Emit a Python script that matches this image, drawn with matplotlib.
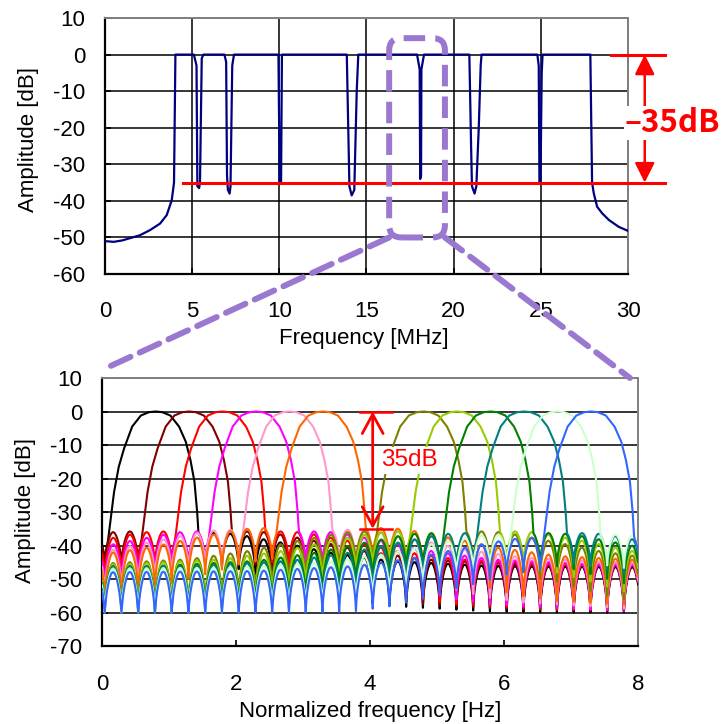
import numpy as np
import matplotlib
matplotlib.use('Agg')
import matplotlib.pyplot as plt
from matplotlib.patches import FancyBboxPatch, ConnectionPatch

plt.rcParams['font.family'] = ['Liberation Sans', 'DejaVu Sans']
plt.rcParams['axes.unicode_minus'] = False

# ---------------- top chart data (measured spectrum) ----------------
top_freq = [0.0, 0.5, 1.0, 1.43, 2.0, 2.58, 3.16, 3.54, 3.83, 3.96, 4.04,
            5.1, 5.25, 5.3, 5.4, 5.45, 5.55, 5.65,
            6.85, 6.95, 7.0, 7.05, 7.15, 7.2, 7.3, 7.4,
            9.95, 10.02, 10.1, 10.15,
            13.87, 14.02, 14.15, 14.3, 14.44, 14.53,
            17.9, 18.05, 18.08, 18.13, 18.15, 18.3,
            20.9, 21.0, 21.05, 21.2, 21.3, 21.44, 21.55, 21.6,
            24.8, 24.88, 24.92, 24.98, 25.05, 25.1,
            27.84, 27.94, 28.04, 28.23, 28.52, 28.9, 29.47, 30.0]
top_amp = [-51.0, -51.2, -50.8, -50.2, -49.4, -48.0, -46.2, -43.9, -39.8, -35.0, 0.0,
           0.0, -3.0, -36.0, -36.5, -35.0, -1.0, 0.0,
           0.0, -2.0, -33.0, -37.0, -38.0, -36.0, -3.0, 0.0,
           0.0, -35.0, -35.0, 0.0,
           0.0, -36.0, -38.5, -37.0, -10.0, 0.0,
           0.0, -4.0, -34.0, -33.0, -4.0, 0.0,
           0.0, -25.0, -36.0, -38.0, -36.0, -20.0, -3.0, 0.0,
           0.0, -3.0, -35.0, -35.0, -5.0, 0.0,
           0.0, -35.0, -38.0, -41.6, -43.4, -45.2, -47.1, -48.2]
top_xticks = [0, 5, 10, 15, 20, 25, 30]
top_yticks = [-60, -50, -40, -30, -20, -10, 0, 10]
zoom_box_freq = [16.3, 19.5]
zoom_box_amp = [-50.0, 4.5]
depth_level = [0.0, -35.0]

# ---------------- bottom chart data (sub-band spectra) ----------------
norm_centers = [0.8, 1.3, 1.8, 2.3, 2.8, 3.3, 4.8, 5.3, 5.8, 6.3, 6.8, 7.3]
curve_colors = ['#000000', '#800000', '#FF0000', '#FF00FF', '#FF99CC', '#FF6600',
                '#808000', '#99CC00', '#008000', '#008080', '#CCFFCC', '#3366FF']
far_level = [-46.5, -46.0, -46.0, -46.0, -45.5, -45.0,
             -46.0, -46.0, -46.5, -46.5, -47.0, -48.0]
# main lobe profile (offset from centre, dB)
lobe_off = [-0.80, -0.72, -0.67, -0.62, -0.55, -0.47, -0.35, -0.22, -0.10, 0.0,
            0.10, 0.22, 0.35, 0.45, 0.52, 0.58, 0.62, 0.65, 0.72]
lobe_db = [-60, -40, -32, -24, -16.5, -11, -4.5, -1.2, -0.2, 0,
           -0.2, -1.2, -4.5, -9, -14.5, -21, -30, -40, -60]
# side-lobe envelope above far level vs distance from centre
env_dist = [0.6, 1.2, 1.6, 2.0, 2.6, 3.5, 5.0, 8.0]
env_rel = [10.5, 10.0, 8.5, 7.0, 4.5, 2.0, 0.5, 0.0]
# side-lobe null depth vs distance
depth_dist = [0.6, 1.5, 3.0, 8.0]
depth_db = [9.0, 11.0, 13.5, 14.0]
# one side-lobe period (fraction of period, dB for a 14 dB deep null)
scal_frac = [0, 0.04, 0.1, 0.2, 0.3, 0.4, 0.5, 0.6, 0.7, 0.8, 0.9, 0.96, 1.0]
scal_rel = [-14, -10, -7, -4, -1.8, -0.5, 0, -0.5, -1.8, -4, -7, -10, -14]
null_phase = 0.04
scallop_period = 0.25
bot_xticks = [0, 2, 4, 6, 8]
bot_yticks = [-70, -60, -50, -40, -30, -20, -10, 0, 10]
bar_x = [3.85, 4.33]
arrow_x = 4.04

purple = '#9B78CF'

fig = plt.figure(figsize=(7.24, 7.24), dpi=100)
ax1 = fig.add_axes([0.145, 0.6215, 0.7224, 0.3536])
ax2 = fig.add_axes([0.1409, 0.1077, 0.7403, 0.3702])

def style(ax, xpad, ypad):
    ax.set_axisbelow(True)
    for s in ['left', 'bottom']:
        ax.spines[s].set_color('black')
        ax.spines[s].set_linewidth(1.6)
    for s in ['top', 'right']:
        ax.spines[s].set_color('#808080')
        ax.spines[s].set_linewidth(1.4)
    ax.tick_params(axis='both', direction='in', length=4, width=1.2, labelsize=16)
    ax.tick_params(axis='x', pad=xpad)
    ax.tick_params(axis='y', pad=ypad)

# ---------------- top chart ----------------
ax1.plot(top_freq, top_amp, color='#000080', lw=1.6, zorder=3)
ax1.set_xlim(0, 30)
ax1.set_ylim(-60, 10)
ax1.set_xticks(top_xticks)
ax1.set_yticks(top_yticks)
ax1.grid(True, color='black', lw=1.1)
style(ax1, 19.5, 14)
ax1.set_xlabel('Frequency [MHz]', fontsize=16, va='center')
ax1.xaxis.set_label_coords(0.494, -0.25)
ax1.set_ylabel('Amplitude [dB]', fontsize=16, va='center')
ax1.yaxis.set_label_coords(-0.147, 0.525)

# -35 dB markers
ax1.plot([4.5, 32.1], [depth_level[1]] * 2, color='red', lw=2.2, zorder=4, clip_on=False)
ax1.plot([29.0, 32.1], [depth_level[0]] * 2, color='red', lw=2.2, zorder=4, clip_on=False)
ax1.annotate('', xy=(30.96, depth_level[1]), xytext=(30.96, depth_level[0]),
             arrowprops=dict(arrowstyle='<|-|>,head_length=0.6,head_width=0.3',
                             color='red', lw=1.8, mutation_scale=20,
                             shrinkA=0, shrinkB=0),
             annotation_clip=False, zorder=4)
ax1.text(32.55, -18.6, '\u201335dB', color='red', fontsize=22.5, fontweight='bold',
         family=['Noto Sans CJK JP', 'DejaVu Sans'],
         ha='center', va='center', clip_on=False, zorder=6,
         bbox=dict(facecolor='white', edgecolor='none', boxstyle='square,pad=0.03'))

# ---------------- bottom chart ----------------
x = np.arange(0, 8.0001, 0.01)
phase = np.mod((x - null_phase) / scallop_period, 1.0)
rel = np.interp(phase, scal_frac, scal_rel)
for c, col, far in zip(norm_centers, curve_colors, far_level):
    d = np.abs(x - c)
    peak = far + np.interp(d, env_dist, env_rel)
    depth = np.interp(d, depth_dist, depth_db)
    side = peak + rel * depth / 14.0
    lobe = np.interp(x - c, lobe_off, lobe_db)
    y = np.maximum(lobe, side)
    ax2.plot(x, y, color=col, lw=1.5, zorder=3)

ax2.set_xlim(0, 8)
ax2.set_ylim(-70, 10)
ax2.set_xticks(bot_xticks)
ax2.set_yticks(bot_yticks)
ax2.yaxis.grid(True, color='black', lw=1.1)
style(ax2, 20, 14)
ax2.set_xlabel('Normalized frequency [Hz]', fontsize=16, va='center')
ax2.xaxis.set_label_coords(0.5, -0.246)
ax2.set_ylabel('Amplitude [dB]', fontsize=16, va='center')
ax2.yaxis.set_label_coords(-0.143, 0.507)

ax2.plot(bar_x, [depth_level[0]] * 2, color='red', lw=1.8, zorder=5)
ax2.plot(bar_x, [depth_level[1]] * 2, color='red', lw=1.8, zorder=5)
ax2.annotate('', xy=(arrow_x, depth_level[1]), xytext=(arrow_x, depth_level[0]),
             arrowprops=dict(arrowstyle='<->,head_length=0.55,head_width=0.3',
                             color='red', lw=2.0, mutation_scale=25,
                             shrinkA=0, shrinkB=0), zorder=5)
ax2.text(4.16, -14.6, '35dB', color='red', fontsize=17.5, ha='left', va='center',
         zorder=6, bbox=dict(facecolor='white', edgecolor='none', boxstyle='square,pad=0.1'))

# ---------------- zoom indicator ----------------
fig.canvas.draw()
to_fig = ax1.transData + fig.transFigure.inverted()
(fx0, fy0) = to_fig.transform((zoom_box_freq[0], zoom_box_amp[0]))
(fx1, fy1) = to_fig.transform((zoom_box_freq[1], zoom_box_amp[1]))
box = FancyBboxPatch((fx0, fy0), fx1 - fx0, fy1 - fy0,
                     boxstyle='round,pad=0,rounding_size=0.017',
                     transform=fig.transFigure, fill=False, edgecolor=purple,
                     lw=4.3, linestyle=(0, (3.6, 1.7)), zorder=10)
fig.add_artist(box)
for (bx, by) in [((zoom_box_freq[0], zoom_box_amp[0]), (0.0, 1.03)),
                 ((zoom_box_freq[1], zoom_box_amp[0]), (0.985, 1.0))]:
    cp = ConnectionPatch(xyA=bx, coordsA=ax1.transData, xyB=by, coordsB=ax2.transAxes,
                         color=purple, lw=4.3, linestyle=(0, (3.6, 1.7)), zorder=10)
    fig.add_artist(cp)

fig.savefig('out.png', dpi=100)
